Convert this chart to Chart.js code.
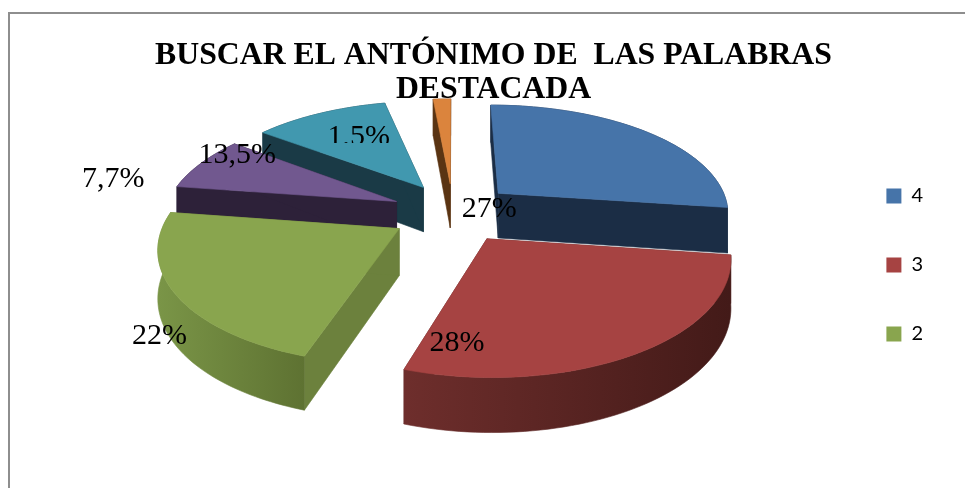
<!DOCTYPE html>
<html>
<head>
<meta charset="utf-8">
<style>html,body{margin:0;padding:0;background:#fff}#w{width:965px;height:488px;position:relative}</style>
<script src="https://cdn.jsdelivr.net/npm/chart.js@4"></script>
</head>
<body>
<div id="w"><canvas id="c" width="965" height="488"></canvas></div>
<script>
const titleLines = ['BUSCAR EL ANTÓNIMO DE  LAS PALABRAS', 'DESTACADA'];
const categories = ['4', '3', '2', '1', '0', '5'];
const values = [27, 28, 22, 7.7, 13.5, 1.5];
const valueLabels = ['27%', '28%', '22%', '7,7%', '13,5%', '1,5%'];
const topColors = ['#4674A9', '#A64342', '#89A54E', '#71588F', '#4198AF', '#DB843D'];
const sideFrom = ['#1B2D45', '#6E2E2C', '#7A9547', '#2D2139', '#1A3A46', '#5A3413'];
const sideTo = ['#1B2D45', '#431A18', '#5E7232', '#2D2139', '#1A3A46', '#5A3413'];
const cutColors = ['#1B2D45', '#5A2322', '#6C813D', '#2D2139', '#1A3A46', '#5A3413'];
const labelShift = [[-101, 55], [-115, 38], [-110, 69], [-163, 1], [-128, 17], [-86, 9]];
const labelClipBelow = [null, null, null, null, null, 143];
const endTrimDeg = [0, 0, 0, 0, 8, 0];
const drawOrder = [4, 3, 5, 0, 2, 1];

const view = {cx: 453, cy: 212.5, radius: 232, squash: 0.485, persp: 0.16, depth: 46};

function project(X, Y, h) {
  const s = 1 + view.persp * Y / view.radius;
  return [view.cx + X * s, view.cy + view.squash * Y * s + h * s];
}

const frame = {
  id: 'frame',
  beforeDraw(chart) {
    const c = chart.ctx;
    c.save();
    c.strokeStyle = '#8E8E8E';
    c.lineWidth = 2;
    c.strokeRect(9, 13, 970, 490);
    c.restore();
  }
};

const pie3d = {
  id: 'pie3d',
  beforeDatasetsDraw(chart) {
    const c = chart.ctx;
    const arcs = chart.getDatasetMeta(0).data;
    const point = (i, a, f, h) => {
      const arc = arcs[i];
      const mid = (arc.startAngle + arc.endAngle) / 2;
      const d = arc.options.offset / arc.outerRadius * view.radius;
      const r = f * view.radius;
      return project(d * Math.cos(mid) + r * Math.cos(a), d * Math.sin(mid) + r * Math.sin(a), h);
    };
    const poly = (pts, fill) => {
      c.beginPath();
      pts.forEach((p, k) => k ? c.lineTo(p[0], p[1]) : c.moveTo(p[0], p[1]));
      c.closePath();
      c.fillStyle = fill;
      c.fill();
      c.strokeStyle = fill;
      c.lineWidth = 0.6;
      c.stroke();
    };
    const lastAngle = i => arcs[i].endAngle - endTrimDeg[i] * Math.PI / 180;
    const rim = (i, h, reverse) => {
      const arc = arcs[i], n = 60, pts = [], end = lastAngle(i);
      for (let k = 0; k <= n; k++) {
        const t = reverse ? 1 - k / n : k / n;
        pts.push(point(i, arc.startAngle + t * (end - arc.startAngle), 1, h));
      }
      return pts;
    };
    drawOrder.forEach(i => {
      const arc = arcs[i], h = view.depth, end = lastAngle(i);
      poly([point(i, 0, 0, 0), point(i, arc.startAngle, 1, 0), point(i, arc.startAngle, 1, h), point(i, 0, 0, h)], cutColors[i]);
      poly([point(i, 0, 0, 0), point(i, end, 1, 0), point(i, end, 1, h), point(i, 0, 0, h)], cutColors[i]);
      const band = rim(i, 0, false).concat(rim(i, h, true));
      const xs = band.map(p => p[0]);
      const g = c.createLinearGradient(Math.min(...xs), 0, Math.max(...xs), 0);
      g.addColorStop(0, sideFrom[i]);
      g.addColorStop(1, sideTo[i]);
      poly(band, g);
      poly([point(i, 0, 0, 0)].concat(rim(i, 0, false)), arc.options.backgroundColor);
    });
    return false;
  },
  afterDraw(chart) {
    const c = chart.ctx;
    const arcs = chart.getDatasetMeta(0).data;
    c.save();
    c.font = '30px "Liberation Serif"';
    c.textAlign = 'center';
    c.textBaseline = 'middle';
    c.fillStyle = '#000';
    arcs.forEach((arc, i) => {
      const mid = (arc.startAngle + arc.endAngle) / 2;
      const d = arc.options.offset / arc.outerRadius * view.radius + 0.6 * view.radius;
      const p = project(d * Math.cos(mid), d * Math.sin(mid), 0);
      c.save();
      if (labelClipBelow[i] !== null) {
        c.beginPath();
        c.rect(0, 0, chart.width, labelClipBelow[i]);
        c.clip();
      }
      c.fillText(valueLabels[i], p[0] + labelShift[i][0], p[1] + labelShift[i][1]);
      c.restore();
    });
    c.restore();
  }
};

new Chart(document.getElementById('c'), {
  type: 'pie',
  data: {
    labels: categories,
    datasets: [{
      data: values,
      backgroundColor: topColors,
      borderWidth: 0,
      offset: 44.8
    }]
  },
  options: {
    responsive: false,
    animation: false,
    layout: {padding: {left: 54, right: 32, top: 20, bottom: -22}},
    plugins: {
      tooltip: {enabled: false},
      title: {
        display: true,
        text: titleLines,
        color: '#000',
        font: {family: '"Liberation Serif"', size: 31.75, weight: 'bold', lineHeight: 1.07},
        padding: {top: 19, bottom: 0}
      },
      legend: {
        position: 'right',
        labels: {
          boxWidth: 15,
          boxHeight: 15,
          padding: 49,
          color: '#000',
          font: {family: 'Lato', size: 20},
          filter: item => item.index < 3
        }
      }
    }
  },
  plugins: [frame, pie3d]
});
</script>
</body>
</html>
